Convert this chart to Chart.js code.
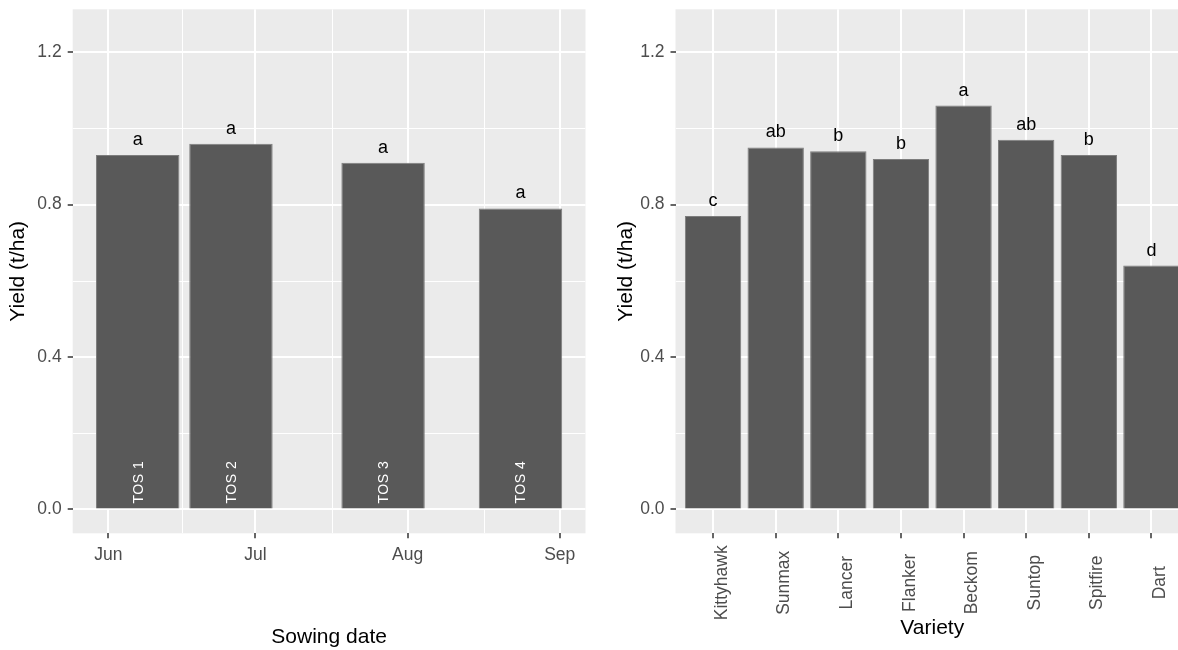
<!DOCTYPE html>
<html><head><meta charset="utf-8">
<script src="https://cdn.jsdelivr.net/npm/chart.js@4"></script>
<style>
html,body{margin:0;padding:0;background:#fff;overflow:hidden;width:1178px;height:650px;position:relative;}
#w1{position:absolute;left:0;top:0;width:590px;height:650px;}
#w2{position:absolute;left:590px;top:0;width:599px;height:650px;}
</style></head><body>
<div id="w1"><canvas id="c1"></canvas></div>
<div id="w2"><canvas id="c2"></canvas></div>
<script>
// ---------- data ----------
const sowingDates = ['2019-06-07','2019-06-26','2019-07-27','2019-08-24'];
const tosLabels = ['TOS 1','TOS 2','TOS 3','TOS 4'];
const tosYield = [0.93, 0.96, 0.91, 0.79];
const tosLetters = ['a','a','a','a'];
const monthTickDates = ['2019-06-01','2019-07-01','2019-08-01','2019-09-01'];
const monthTickLabels = ['Jun','Jul','Aug','Sep'];
const varieties = ['Kittyhawk','Sunmax','Lancer','Flanker','Beckom','Suntop','Spitfire','Dart'];
const varietyYield = [0.77, 0.95, 0.94, 0.92, 1.06, 0.97, 0.93, 0.64];
const varietyLetters = ['c','ab','b','b','a','ab','b','d'];
const yMajorTicks = [0, 0.4, 0.8, 1.2];
const yTickLabels = ['0.0','0.4','0.8','1.2'];
const yMinorTicks = [0.2, 0.6, 1.0];
const yLimits = [0, 1.25];

// ---------- helpers ----------
const FONT = '"Liberation Sans", Arial, sans-serif';
const DAY = 86400000;
const toDay = s => Date.parse(s) / DAY;
const tosX = sowingDates.map(toDay);
const monthX = monthTickDates.map(toDay);
const monthMinor = monthX.slice(1).map((v, i) => (v + monthX[i]) / 2);
const barWidthDays = 17;
const yExp = (yLimits[1] - yLimits[0]) * 0.05;
const xLo = Math.min(...tosX) - barWidthDays / 2, xHi = Math.max(...tosX) + barWidthDays / 2;
const xExp = (xHi - xLo) * 0.05;
const minGap = Math.min(...tosX.slice(1).map((v, i) => v - tosX[i]));

const bg = {
  id: 'panelBg',
  beforeDraw(chart) {
    const {ctx, chartArea: a} = chart;
    ctx.save(); ctx.fillStyle = '#EBEBEB';
    ctx.fillRect(a.left, a.top, a.right - a.left, a.bottom - a.top);
    ctx.restore();
  }
};
const minorGrid = {
  id: 'minorGrid',
  beforeDatasetsDraw(chart, args, opts) {
    const {ctx, chartArea: a, scales} = chart;
    ctx.save();
    ctx.beginPath(); ctx.rect(a.left, a.top, a.right - a.left, a.bottom - a.top); ctx.clip();
    ctx.strokeStyle = '#FFFFFF'; ctx.lineWidth = 1;
    (opts.x || []).forEach(v => {
      const p = Math.round(scales.x.getPixelForValue(v)) + 0.5;
      ctx.beginPath(); ctx.moveTo(p, a.top); ctx.lineTo(p, a.bottom); ctx.stroke();
    });
    (opts.y || []).forEach(v => {
      const p = Math.round(scales.y.getPixelForValue(v)) + 0.5;
      ctx.beginPath(); ctx.moveTo(a.left, p); ctx.lineTo(a.right, p); ctx.stroke();
    });
    ctx.restore();
  }
};
const barText = {
  id: 'barText',
  afterDatasetsDraw(chart, args, opts) {
    const {ctx, scales} = chart;
    const meta = chart.getDatasetMeta(0);
    ctx.save();
    meta.data.forEach((bar, i) => {
      ctx.fillStyle = '#000000';
      ctx.font = '18px ' + FONT;
      ctx.textAlign = 'center'; ctx.textBaseline = 'alphabetic';
      ctx.fillText(opts.letters[i], bar.x, bar.y - 10);
      if (opts.inside) {
        ctx.save();
        ctx.translate(bar.x + 1, scales.y.getPixelForValue(0) - 6);
        ctx.rotate(-Math.PI / 2);
        ctx.fillStyle = '#FFFFFF';
        ctx.font = '14px ' + FONT;
        ctx.letterSpacing = '0.5px';
        ctx.textAlign = 'left'; ctx.textBaseline = 'middle';
        ctx.fillText(opts.inside[i], 0, 0);
        ctx.restore();
      }
    });
    ctx.restore();
  }
};
const rotLabels = {
  id: 'rotLabels',
  afterDraw(chart, args, opts) {
    if (!opts.labels) return;
    const {ctx, scales} = chart;
    const xs = scales.x;
    ctx.save();
    ctx.font = '17.5px ' + FONT;
    ctx.fillStyle = '#4D4D4D';
    const maxW = Math.max(...opts.labels.map(t => ctx.measureText(t).width));
    const cy = xs.top + 5 + 7 + maxW / 2;
    opts.labels.forEach((t, i) => {
      ctx.save();
      ctx.translate(xs.getPixelForValue(i), cy);
      ctx.rotate(-Math.PI / 2);
      ctx.textAlign = 'center'; ctx.textBaseline = 'top';
      ctx.fillText(t, 0, 0);
      ctx.restore();
    });
    ctx.restore();
  }
};

const gridOpts = { color: '#FFFFFF', lineWidth: 2, tickColor: '#333333', tickWidth: 1.5, tickLength: 5, drawTicks: true, offset: false };

function yScale(titlePadTop, width) {
  return {
    type: 'linear', min: yLimits[0] - yExp, max: yLimits[1] + yExp,
    afterBuildTicks: s => { s.ticks = yMajorTicks.map(v => ({value: v})); },
    afterFit: s => { s.width = width; s.paddingTop = 0; s.paddingBottom = 0; },
    ticks: { callback: (v, i) => yTickLabels[i], color: '#4D4D4D', font: {family: FONT, size: 17.5}, padding: 6, autoSkip: false },
    grid: gridOpts,
    border: { display: false },
    title: { display: true, text: 'Yield (t/ha)', color: '#000000', font: {family: FONT, size: 21}, padding: {top: titlePadTop, bottom: 0} }
  };
}

Chart.defaults.animation = false;

new Chart(document.getElementById('c1'), {
  type: 'bar',
  data: { datasets: [{
    data: tosX.map((x, i) => ({x: x, y: tosYield[i]})),
    backgroundColor: '#595959', borderColor: '#7d7d7d', borderWidth: 1,
    barPercentage: barWidthDays / minGap, categoryPercentage: 1
  }]},
  options: {
    responsive: true, maintainAspectRatio: false, devicePixelRatio: 1,
    layout: { padding: {left: 0, right: 4.5, top: 9.3, bottom: 0} },
    plugins: { legend: {display: false}, tooltip: {enabled: false},
      minorGrid: { x: monthMinor, y: yMinorTicks },
      barText: { letters: tosLetters, inside: tosLabels },
      rotLabels: {} },
    scales: {
      x: {
        type: 'linear', offset: false, min: xLo - xExp, max: xHi + xExp,
        afterBuildTicks: s => { s.ticks = monthX.map(v => ({value: v})); },
        afterFit: s => { s.height = 116.7; s.paddingLeft = 0; s.paddingRight = 0; },
        ticks: { callback: (v, i) => monthTickLabels[i], color: '#4D4D4D', font: {family: FONT, size: 17.5}, padding: 6.3, autoSkip: false, maxRotation: 0, minRotation: 0 },
        grid: gridOpts,
        border: { display: false },
        title: { display: true, text: 'Sowing date', color: '#000000', font: {family: FONT, size: 21}, padding: {top: 0, bottom: 0.4} }
      },
      y: yScale(5.4, 72.7)
    }
  },
  plugins: [bg, minorGrid, barText, rotLabels]
});

new Chart(document.getElementById('c2'), {
  type: 'bar',
  data: { datasets: [{
    data: varieties.map((v, i) => ({x: i, y: varietyYield[i]})),
    backgroundColor: '#595959', borderColor: '#7d7d7d', borderWidth: 1,
    barPercentage: 0.9, categoryPercentage: 1
  }]},
  options: {
    responsive: true, maintainAspectRatio: false, devicePixelRatio: 1,
    layout: { padding: {left: 0, right: 0, top: 9.3, bottom: 0} },
    plugins: { legend: {display: false}, tooltip: {enabled: false},
      minorGrid: { x: [], y: yMinorTicks },
      barText: { letters: varietyLetters },
      rotLabels: { labels: varieties } },
    scales: {
      x: {
        type: 'linear', offset: false, min: -0.6, max: varieties.length - 1 + 0.6,
        afterBuildTicks: s => { s.ticks = varieties.map((v, i) => ({value: i})); },
        afterFit: s => { s.height = 116.7; s.paddingLeft = 0; s.paddingRight = 0; },
        ticks: { display: false, autoSkip: false },
        grid: gridOpts,
        border: { display: false },
        title: { display: true, text: 'Variety', color: '#000000', font: {family: FONT, size: 21}, padding: {top: 0, bottom: 8.8} }
      },
      y: yScale(23.4, 85.5)
    }
  },
  plugins: [bg, minorGrid, barText, rotLabels]
});
</script>
</body></html>
